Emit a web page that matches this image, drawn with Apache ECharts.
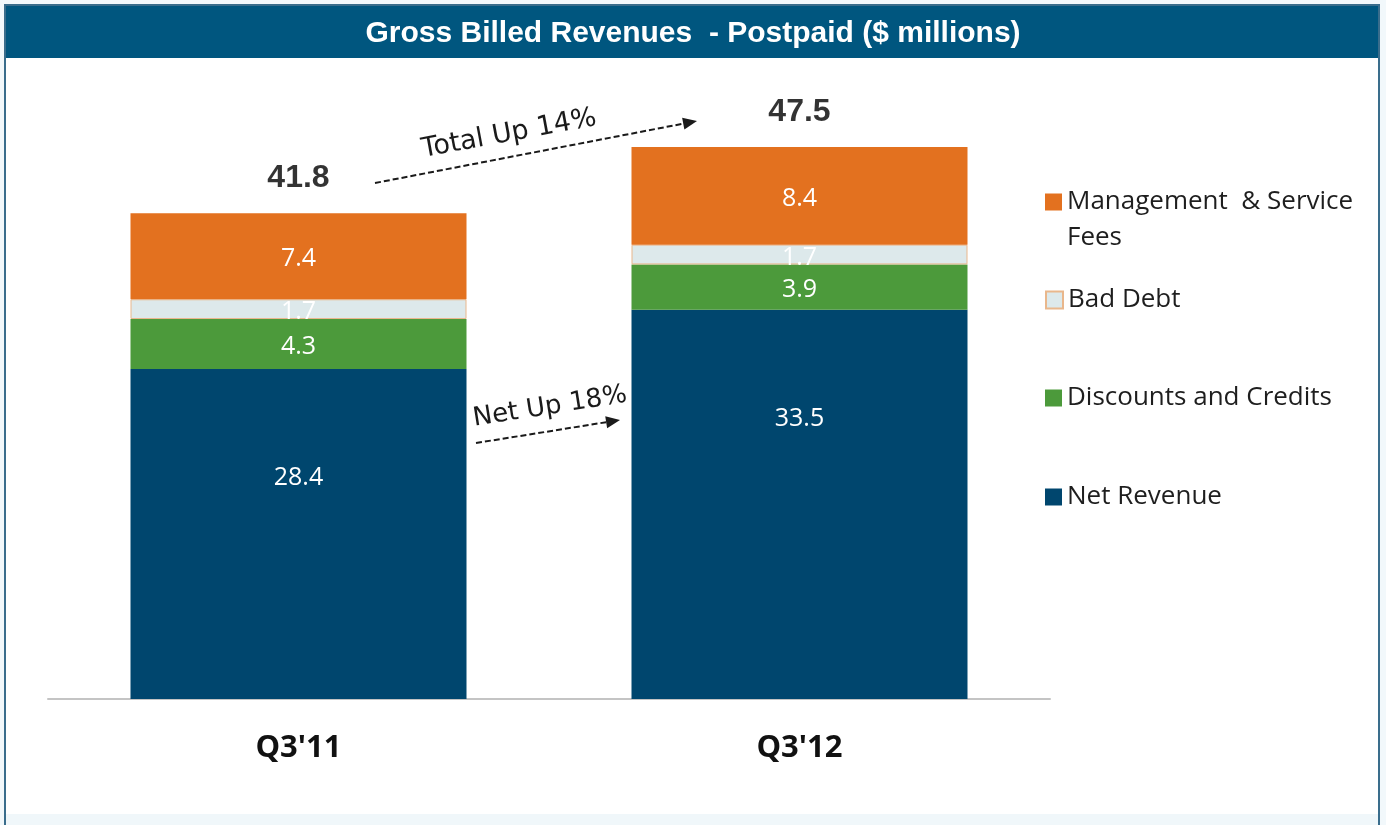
<!DOCTYPE html>
<html>
<head>
<meta charset="utf-8">
<title>Gross Billed Revenues - Postpaid</title>
<script src="https://cdn.jsdelivr.net/npm/echarts@6/dist/echarts.min.js"></script>
<style>
	html,body{margin:0;padding:0;background:#f2f8fb;}
	#main{width:1386px;height:825px;}
</style>
</head>
<body>
<div id="main"></div>
<script>
//数据
var categories = ["Q3'11", "Q3'12"];
var netRevenue = [28.4, 33.5];
var discounts = [4.3, 3.9];
var badDebt = [1.7, 1.7];
var mgmtFees = [7.4, 8.4];
var totals = [41.8, 47.5];

var colors = {
	net: '#00466e',
	disc: '#4c9a3b',
	bad: '#dde9eb',
	mgmt: '#e3711f'
};

//虚线箭头
function arrow(x1, y1, x2, y2){
	var dx = x2 - x1, dy = y2 - y1;
	var len = Math.sqrt(dx*dx + dy*dy);
	var ux = dx/len, uy = dy/len;
	var bx = x2 - ux*14, by = y2 - uy*14;
	return [{
		type: 'line', z: 10,
		shape: {x1: x1, y1: y1, x2: bx, y2: by},
		style: {stroke: '#1a1a1a', lineWidth: 2, lineDash: [6, 3]}
	},{
		type: 'polygon', z: 10,
		shape: {points: [[x2, y2], [bx - uy*6, by + ux*6], [bx + uy*6, by - ux*6]]},
		style: {fill: '#1a1a1a'}
	}];
}

function barSeries(name, data, color, extra){
	var s = {
		name: name,
		type: 'bar',
		stack: 'total',
		barWidth: 336,
		data: data,
		itemStyle: {color: color},
		label: {
			show: true,
			position: 'inside',
			offset: [0, 3],
			color: '#fff',
			fontFamily: 'Open Sans',
			fontSize: 25
		}
	};
	return Object.assign(s, extra || {});
}

function legendItem(name, top, fmt){
	var l = {
		data: [name],
		left: 1045,
		top: top,
		padding: 0,
		orient: 'vertical',
		selectedMode: false,
		itemWidth: 17,
		itemHeight: 17,
		itemGap: 0,
		icon: 'rect',
		textStyle: {
			fontFamily: 'Open Sans',
			fontSize: 26,
			color: '#1e1e1e',
			lineHeight: 36
		}
	};
	if(fmt){ l.formatter = fmt; }
	return l;
}

var myChart = echarts.init(document.getElementById('main'));

var graphics = [
	{type: 'rect', z: 0, shape: {x: 5, y: 5, width: 1374, height: 840},
		style: {fill: '#fff', stroke: '#3a6d8c', lineWidth: 2}},
	{type: 'rect', z: 1, shape: {x: 6, y: 814, width: 1372, height: 11},
		style: {fill: '#f0f7fa'}},
	{type: 'rect', z: 1, shape: {x: 6, y: 6, width: 1372, height: 52},
		style: {fill: '#00567f'}},
	{type: 'text', z: 10, x: 509, y: 134, rotation: 10.5*Math.PI/180,
		style: {text: 'Total Up 14%', fontFamily: 'DejaVu Sans', fontSize: 27, fill: '#1a1a1a', align: 'center', verticalAlign: 'middle'}},
	{type: 'text', z: 10, x: 550, y: 407, rotation: 9*Math.PI/180,
		style: {text: 'Net Up 18%', fontFamily: 'DejaVu Sans', fontSize: 26, fill: '#1a1a1a', align: 'center', verticalAlign: 'middle'}}
].concat(arrow(375, 183, 697, 121), arrow(476, 443, 620, 420));

var option = {
	backgroundColor: '#f2f8fb',
	animation: false,
	title: {
		text: 'Gross Billed Revenues  - Postpaid ($ millions)',
		left: 'center',
		top: 18,
		padding: 0,
		textStyle: {color: '#fff', fontFamily: 'Liberation Sans', fontWeight: 'bold', fontSize: 30, lineHeight: 32}
	},
	graphic: graphics,
	legend: [
		//空行在上, 让图标对齐第一行
		legendItem('Management  & Service\nFees', 148, function(n){ return ' \n' + n; }),
		legendItem('Bad Debt', 282),
		legendItem('Discounts and Credits', 380),
		legendItem('Net Revenue', 479)
	],
	grid: {left: 48, right: 336, top: 118, bottom: 126},
	xAxis: {
		type: 'category',
		data: categories,
		axisLine: {lineStyle: {color: '#c4c4c4', width: 2}},
		axisTick: {show: false},
		axisLabel: {
			margin: 34,
			color: '#111',
			fontFamily: 'Open Sans',
			fontWeight: 'bold',
			fontSize: 31,
			lineHeight: 31
		}
	},
	yAxis: {type: 'value', min: 0, max: 50, show: false, splitLine: {show: false}},
	series: [
		barSeries('Net Revenue', netRevenue, colors.net, {
			label: {
				show: true,
				position: ['50%', 109],
				align: 'center',
				verticalAlign: 'middle',
				color: '#fff',
				fontFamily: 'Open Sans',
				fontSize: 25
			}
		}),
		barSeries('Discounts and Credits', discounts, colors.disc),
		barSeries('Bad Debt', badDebt, colors.bad, {
			itemStyle: {color: colors.bad, borderColor: '#e9b78c', borderWidth: 1}
		}),
		barSeries('Management  & Service\nFees', mgmtFees, colors.mgmt),
		{
			name: 'Total',
			type: 'scatter',
			data: totals,
			symbolSize: 0,
			z: 10,
			label: {
				show: true,
				position: 'top',
				distance: 19,
				color: '#000',
				fontFamily: 'Liberation Sans',
				fontWeight: 'bold',
				fontSize: 32
			}
		}
	]
};
myChart.setOption(option);
</script>
</body>
</html>
